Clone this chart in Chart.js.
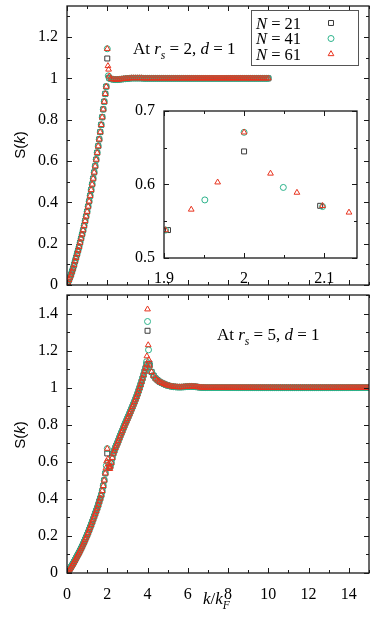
<!DOCTYPE html>
<html>
<head>
<meta charset="utf-8">
<script src="https://cdn.jsdelivr.net/npm/chart.js@4.4.1/dist/chart.umd.min.js"></script>
<style>
html, body { margin: 0; padding: 0; background: #fff; }
body { width: 374px; height: 623px; position: relative; overflow: hidden; }
canvas { position: absolute; }
#top { left: 0; top: 0; }
#bottom { left: 0; top: 290px; }
#inset { left: 128px; top: 104px; }
</style>
</head>
<body>
<canvas id="top" width="374" height="290"></canvas>
<canvas id="bottom" width="374" height="333"></canvas>
<canvas id="inset" width="234" height="180"></canvas>
<script>
// ---- data (k in units of k_F) ----
const seriesNames = ['N = 21', 'N = 41', 'N = 61'];

// r_s = 2 panel
const kTopRise = [
  0, 0.05, 0.1, 0.15, 0.2, 0.25, 0.3, 0.35, 0.4, 0.45,
  0.5, 0.55, 0.6, 0.65, 0.7, 0.75, 0.8, 0.85, 0.9, 0.95,
  1.0, 1.05, 1.1, 1.15, 1.2, 1.25, 1.3, 1.35, 1.4, 1.45,
  1.5, 1.55, 1.6, 1.65, 1.7, 1.75, 1.8, 1.85, 1.9, 1.95
];
const sTopRise = [
  0, 0.012, 0.025, 0.037, 0.05, 0.065, 0.08, 0.097, 0.115, 0.132,
  0.15, 0.167, 0.185, 0.205, 0.225, 0.245, 0.265, 0.287, 0.31, 0.332,
  0.355, 0.38, 0.405, 0.432, 0.46, 0.487, 0.515, 0.545, 0.575, 0.607,
  0.64, 0.672, 0.705, 0.74, 0.775, 0.812, 0.85, 0.887, 0.925, 0.96
];
const kTopPeak21 = [2.0, 2.095];
const sTopPeak21 = [1.096, 1.003];
const kTopPeak41 = [2.0, 2.049, 2.098];
const sTopPeak41 = [1.143, 1.012, 1.0];
const kTopPeak61 = [2.0, 2.033, 2.066, 2.098];
const sTopPeak61 = [1.143, 1.06, 1.043, 1.01];
const kTopFlat = [
  2.2, 2.3, 2.4, 2.5, 2.6, 2.7, 2.8, 2.9, 3.0,
  3.1, 3.2, 3.3, 3.4, 3.5, 3.6, 3.7, 3.8, 3.9, 4.0,
  4.1, 4.2, 4.3, 4.4, 4.5, 4.6, 4.7, 4.8, 4.9, 5.0,
  5.1, 5.2, 5.3, 5.4, 5.5, 5.6, 5.7, 5.8, 5.9, 6.0,
  6.1, 6.2, 6.3, 6.4, 6.5, 6.6, 6.7, 6.8, 6.9, 7.0,
  7.1, 7.2, 7.3, 7.4, 7.5, 7.6, 7.7, 7.8, 7.9, 8.0,
  8.1, 8.2, 8.3, 8.4, 8.5, 8.6, 8.7, 8.8, 8.9, 9.0,
  9.1, 9.2, 9.3, 9.4, 9.5, 9.6, 9.7, 9.8, 9.9, 10.0
];
const sTopFlat = [
  0.997, 0.995, 0.994, 0.994, 0.995, 0.996, 0.997, 0.998, 0.999,
  1.0, 1.001, 1.001, 1.001, 1.001, 1.001, 1.001, 1.0, 1.0, 1.0,
  1.0, 1.0, 1.0, 1.0, 1.0, 1.0, 1.0, 1.0, 1.0, 1.0,
  1.0, 1.0, 1.0, 1.0, 1.0, 1.0, 1.0, 1.0, 1.0, 1.0,
  1.0, 1.0, 1.0, 1.0, 1.0, 1.0, 1.0, 1.0, 1.0, 1.0,
  1.0, 1.0, 1.0, 1.0, 1.0, 1.0, 1.0, 1.0, 1.0, 1.0,
  1.0, 1.0, 1.0, 1.0, 1.0, 1.0, 1.0, 1.0, 1.0, 1.0,
  1.0, 1.0, 1.0, 1.0, 1.0, 1.0, 1.0, 1.0, 1.0, 1.0
];

// r_s = 5 panel (the inset zooms on its kink at k = 2)
const kIn21 = [1.905, 2.0, 2.095];
const sIn21 = [0.538, 0.645, 0.571];
const kIn41 = [1.902, 1.951, 2.0, 2.049, 2.098];
const sIn41 = [0.538, 0.579, 0.671, 0.596, 0.570];
const kIn61 = [1.902, 1.934, 1.967, 2.0, 2.033, 2.066, 2.098, 2.131];
const sIn61 = [0.538, 0.566, 0.603, 0.671, 0.615, 0.589, 0.571, 0.562];

const kBotRise = [
  0, 0.05, 0.1, 0.15, 0.2, 0.25, 0.3, 0.35, 0.4, 0.45,
  0.5, 0.55, 0.6, 0.65, 0.7, 0.75, 0.8, 0.85, 0.9, 0.95,
  1.0, 1.05, 1.1, 1.15, 1.2, 1.25, 1.3, 1.35, 1.4, 1.45,
  1.5, 1.55, 1.6, 1.65, 1.7, 1.75, 1.8, 1.85
];
const sBotRise = [
  0, 0.007, 0.015, 0.023, 0.032, 0.041, 0.05, 0.06, 0.07, 0.08,
  0.09, 0.1, 0.11, 0.121, 0.132, 0.143, 0.155, 0.167, 0.18, 0.192,
  0.205, 0.218, 0.232, 0.246, 0.26, 0.275, 0.29, 0.305, 0.32, 0.335,
  0.35, 0.367, 0.385, 0.402, 0.42, 0.443, 0.47, 0.5
];
const kBotMid = [
  2.15, 2.2, 2.25, 2.3, 2.35, 2.4, 2.45, 2.5, 2.55, 2.6,
  2.65, 2.7, 2.75, 2.8, 2.85, 2.9, 2.95, 3.0, 3.05, 3.1,
  3.15, 3.2, 3.25, 3.3, 3.35, 3.4, 3.45, 3.5, 3.55, 3.6,
  3.65, 3.7, 3.75, 3.8, 3.85, 3.9, 3.95
];
const sBotMid = [
  0.575, 0.595, 0.622, 0.645, 0.66, 0.675, 0.688, 0.70, 0.714, 0.728,
  0.742, 0.755, 0.768, 0.782, 0.795, 0.808, 0.82, 0.833, 0.845, 0.858,
  0.871, 0.884, 0.897, 0.91, 0.923, 0.937, 0.951, 0.966, 0.982, 0.998,
  1.015, 1.032, 1.05, 1.068, 1.087, 1.105, 1.125
];
const kBotPeak21 = [4.0, 4.095];
const sBotPeak21 = [1.307, 1.13];
const kBotPeak41 = [3.951, 4.0, 4.049];
const sBotPeak41 = [1.14, 1.357, 1.204];
const kBotPeak61 = [3.967, 4.0, 4.033, 4.066];
const sBotPeak61 = [1.17, 1.423, 1.23, 1.15];
const kBotFlat = [
  4.1, 4.2, 4.3, 4.4, 4.5, 4.6, 4.7, 4.8, 4.9, 5.0,
  5.1, 5.2, 5.3, 5.4, 5.5, 5.6, 5.7, 5.8, 5.9, 6.0,
  6.1, 6.2, 6.3, 6.4, 6.5, 6.6, 6.7, 6.8, 6.9, 7.0,
  7.1, 7.2, 7.3, 7.4, 7.5, 7.6, 7.7, 7.8, 7.9, 8.0,
  8.1, 8.2, 8.3, 8.4, 8.5, 8.6, 8.7, 8.8, 8.9, 9.0,
  9.1, 9.2, 9.3, 9.4, 9.5, 9.6, 9.7, 9.8, 9.9, 10.0,
  10.1, 10.2, 10.3, 10.4, 10.5, 10.6, 10.7, 10.8, 10.9, 11.0,
  11.1, 11.2, 11.3, 11.4, 11.5, 11.6, 11.7, 11.8, 11.9, 12.0,
  12.1, 12.2, 12.3, 12.4, 12.5, 12.6, 12.7, 12.8, 12.9, 13.0,
  13.1, 13.2, 13.3, 13.4, 13.5, 13.6, 13.7, 13.8, 13.9, 14.0,
  14.1, 14.2, 14.3, 14.4, 14.5, 14.6, 14.7, 14.8, 14.9, 15.0
];
const sBotFlat = [
  1.12, 1.085, 1.065, 1.05, 1.04, 1.032, 1.026, 1.021, 1.016, 1.012,
  1.009, 1.007, 1.005, 1.004, 1.003, 1.003, 1.003, 1.004, 1.005, 1.006,
  1.007, 1.007, 1.006, 1.005, 1.003, 1.002, 1.001, 1.001, 1.0, 1.0,
  1.0, 1.0, 1.0, 1.0, 1.0, 1.0, 1.0, 1.0, 1.0, 1.0,
  1.0, 1.0, 1.0, 1.0, 1.0, 1.0, 1.0, 1.0, 1.0, 1.0,
  1.0, 1.0, 1.0, 1.0, 1.0, 1.0, 1.0, 1.0, 1.0, 1.0,
  1.0, 1.0, 1.0, 1.0, 1.0, 1.0, 1.0, 1.0, 1.0, 1.0,
  1.0, 1.0, 1.0, 1.0, 1.0, 1.0, 1.0, 1.0, 1.0, 1.0,
  1.0, 1.0, 1.0, 1.0, 1.0, 1.0, 1.0, 1.0, 1.0, 1.0,
  1.0, 1.0, 1.0, 1.0, 1.0, 1.0, 1.0, 1.0, 1.0, 1.0,
  1.0, 1.0, 1.0, 1.0, 1.0, 1.0, 1.0, 1.0, 1.0, 1.0
];

// tick labels
const xTicks = [0, 2, 4, 6, 8, 10, 12, 14];
const yTopTicks = [0, 0.2, 0.4, 0.6, 0.8, 1, 1.2];
const yBotTicks = [0, 0.2, 0.4, 0.6, 0.8, 1, 1.2, 1.4];
const xInTicks = [1.9, 2, 2.1];
const yInTicks = [0.5, 0.6, 0.7];

// ---- styles ----
const SERIF = 'Liberation Serif';
const styles = [
  { pointStyle: 'rect', radius: 3.5, color: '#3a3a3a', order: 3 },
  { pointStyle: 'circle', radius: 3, color: '#2cb38b', order: 2 },
  { pointStyle: 'triangle', radius: 3.3, color: '#e8341f', order: 1 }
];

function pts(ks, ss) {
  return ks.map((k, i) => ({ x: k, y: ss[i] }));
}

function makeSet(i, data) {
  const st = styles[i];
  return {
    label: seriesNames[i],
    data: data,
    pointStyle: st.pointStyle,
    pointRadius: st.radius,
    pointBorderColor: st.color,
    pointBackgroundColor: 'rgba(0,0,0,0)',
    pointBorderWidth: 1,
    order: st.order
  };
}

function rich(ctx, x, y, parts, size, family) {
  parts.forEach(p => {
    const s = p.sub ? size * 0.68 : size;
    ctx.font = (p.it ? 'italic ' : '') + s + 'px ' + family;
    ctx.fillText(p.t, x, y + (p.sub ? size * 0.3 : 0));
    x += ctx.measureText(p.t).width;
  });
  return x;
}

function richWidth(ctx, parts, size, family) {
  let w = 0;
  parts.forEach(p => {
    const s = p.sub ? size * 0.68 : size;
    ctx.font = (p.it ? 'italic ' : '') + s + 'px ' + family;
    w += ctx.measureText(p.t).width;
  });
  return w;
}

function marker(ctx, st, x, y) {
  const r = st.radius;
  ctx.beginPath();
  if (st.pointStyle === 'rect') {
    const s = r * Math.SQRT1_2;
    ctx.rect(x - s, y - s, 2 * s, 2 * s);
  } else if (st.pointStyle === 'circle') {
    ctx.arc(x, y, r, 0, Math.PI * 2);
  } else {
    ctx.moveTo(x, y - r);
    ctx.lineTo(x + r * Math.sin(Math.PI * 2 / 3), y + r * 0.5);
    ctx.lineTo(x - r * Math.sin(Math.PI * 2 / 3), y + r * 0.5);
    ctx.closePath();
  }
  ctx.strokeStyle = st.color;
  ctx.lineWidth = 1;
  ctx.stroke();
}

// frame with inward ticks on all four sides, plus extra drawing
function decor(cfg) {
  return {
    id: 'decor',
    beforeDatasetsDraw(chart) {
      if (!cfg.white) return;
      const a = chart.chartArea, ctx = chart.ctx;
      ctx.save();
      ctx.fillStyle = '#fff';
      ctx.fillRect(a.left, a.top, a.right - a.left, a.bottom - a.top);
      ctx.restore();
    },
    afterDatasetsDraw(chart) {
      const ctx = chart.ctx, a = chart.chartArea;
      const xs = chart.scales.x, ys = chart.scales.y;
      ctx.save();
      ctx.strokeStyle = '#1a1a1a';
      ctx.lineWidth = 1;
      const eps = 1e-6;
      for (let v = Math.ceil(xs.min / cfg.xMinor - eps) * cfg.xMinor; v <= xs.max + eps; v += cfg.xMinor) {
        const px = Math.round(xs.getPixelForValue(v)) + 0.5;
        const major = Math.abs(v / cfg.xMajor - Math.round(v / cfg.xMajor)) < 1e-4;
        const len = major ? 5 : 3;
        ctx.beginPath();
        ctx.moveTo(px, a.bottom); ctx.lineTo(px, a.bottom - len);
        ctx.moveTo(px, a.top); ctx.lineTo(px, a.top + len);
        ctx.stroke();
      }
      for (let v = Math.ceil(ys.min / cfg.yMinor - eps) * cfg.yMinor; v <= ys.max + eps; v += cfg.yMinor) {
        const py = Math.round(ys.getPixelForValue(v)) + 0.5;
        const major = Math.abs(v / cfg.yMajor - Math.round(v / cfg.yMajor)) < 1e-4;
        const len = major ? 5 : 3;
        ctx.beginPath();
        ctx.moveTo(a.left, py); ctx.lineTo(a.left + len, py);
        ctx.moveTo(a.right, py); ctx.lineTo(a.right - len, py);
        ctx.stroke();
      }
      ctx.lineWidth = 1.3;
      ctx.strokeRect(a.left, a.top, a.right - a.left, a.bottom - a.top);
      ctx.restore();
      if (cfg.extra) {
        ctx.save();
        ctx.fillStyle = '#000';
        ctx.textAlign = 'left';
        ctx.textBaseline = 'alphabetic';
        cfg.extra(ctx, chart);
        ctx.restore();
      }
    }
  };
}

function fmt(v) { return String(+v.toFixed(2)); }

function axes(xMin, xMax, xt, yMin, yMax, yt, showX, xPad, yPad, yWidth, xHeight) {
  return {
    x: {
      type: 'linear', min: xMin, max: xMax,
      grid: { display: false, drawTicks: false }, border: { display: false },
      afterBuildTicks: s => { s.ticks = xt.map(v => ({ value: v })); },
      afterFit: s => { s.height = xHeight; s.paddingLeft = 0; s.paddingRight = 0; },
      ticks: { display: showX, padding: xPad, color: '#000', font: { family: SERIF, size: 16 }, callback: fmt, maxRotation: 0, autoSkip: false }
    },
    y: {
      type: 'linear', min: yMin, max: yMax,
      grid: { display: false, drawTicks: false }, border: { display: false },
      afterBuildTicks: s => { s.ticks = yt.map(v => ({ value: v })); },
      afterFit: s => { s.width = yWidth; s.paddingTop = 0; s.paddingBottom = 0; },
      ticks: { padding: yPad, color: '#000', font: { family: SERIF, size: 16 }, callback: fmt, autoSkip: false }
    }
  };
}

function yTitle(ctx, cx, cy) {
  const parts = [{ t: 'S(' }, { t: 'k', it: true }, { t: ')' }];
  const fam = 'Liberation Sans';
  const w = richWidth(ctx, parts, 15, fam);
  ctx.save();
  ctx.translate(cx, cy);
  ctx.rotate(-Math.PI / 2);
  rich(ctx, -w / 2, 5, parts, 15, fam);
  ctx.restore();
}

// ---- top panel: r_s = 2 ----
new Chart(document.getElementById('top'), {
  type: 'scatter',
  data: {
    datasets: [
      makeSet(0, pts(kTopRise, sTopRise).concat(pts(kTopPeak21, sTopPeak21), pts(kTopFlat, sTopFlat))),
      makeSet(1, pts(kTopRise, sTopRise).concat(pts(kTopPeak41, sTopPeak41), pts(kTopFlat, sTopFlat))),
      makeSet(2, pts(kTopRise, sTopRise).concat(pts(kTopPeak61, sTopPeak61), pts(kTopFlat, sTopFlat)))
    ]
  },
  options: {
    responsive: false, animation: false, devicePixelRatio: 1,
    layout: { padding: { left: 0, right: 4, top: 6, bottom: 0 } },
    plugins: { legend: { display: false }, tooltip: { enabled: false } },
    scales: axes(0, 15, xTicks, 0, 1.35, yTopTicks, false, 0, 9, 67, 4)
  },
  plugins: [decor({
    xMinor: 1, xMajor: 2, yMinor: 0.1, yMajor: 0.2,
    extra: (ctx) => {
      yTitle(ctx, 20, 145);
      rich(ctx, 133, 54, [
        { t: 'At ' }, { t: 'r', it: true }, { t: 's', it: true, sub: true },
        { t: ' = 2, ' }, { t: 'd', it: true }, { t: ' = 1' }
      ], 17, SERIF);
      // legend box
      ctx.strokeStyle = '#555';
      ctx.lineWidth = 1;
      ctx.strokeRect(251.5, 10.5, 107, 55);
      const rows = [23, 38.5, 54];
      seriesNames.forEach((name, i) => {
        ctx.fillStyle = '#000';
        rich(ctx, 256, rows[i] + 5.5, [{ t: 'N', it: true }, { t: name.slice(1) }], 16.5, SERIF);
        marker(ctx, styles[i], 331, rows[i]);
      });
    }
  })]
});

// ---- bottom panel: r_s = 5 ----
new Chart(document.getElementById('bottom'), {
  type: 'scatter',
  data: {
    datasets: [
      makeSet(0, pts(kBotRise, sBotRise).concat(pts(kIn21, sIn21), pts(kBotMid, sBotMid), pts(kBotPeak21, sBotPeak21), pts(kBotFlat, sBotFlat))),
      makeSet(1, pts(kBotRise, sBotRise).concat(pts(kIn41, sIn41), pts(kBotMid, sBotMid), pts(kBotPeak41, sBotPeak41), pts(kBotFlat, sBotFlat))),
      makeSet(2, pts(kBotRise, sBotRise).concat(pts(kIn61, sIn61), pts(kBotMid, sBotMid), pts(kBotPeak61, sBotPeak61), pts(kBotFlat, sBotFlat)))
    ]
  },
  options: {
    responsive: false, animation: false, devicePixelRatio: 1,
    layout: { padding: { left: 0, right: 4, top: 3, bottom: 0 } },
    plugins: { legend: { display: false }, tooltip: { enabled: false } },
    scales: axes(0, 15, xTicks, 0, 1.5, yBotTicks, true, 12, 9, 67, 50)
  },
  plugins: [decor({
    xMinor: 1, xMajor: 2, yMinor: 0.1, yMajor: 0.2,
    extra: (ctx) => {
      yTitle(ctx, 20, 145);
      rich(ctx, 217, 50, [
        { t: 'At ' }, { t: 'r', it: true }, { t: 's', it: true, sub: true },
        { t: ' = 5, ' }, { t: 'd', it: true }, { t: ' = 1' }
      ], 17, SERIF);
      rich(ctx, 203, 314, [{ t: 'k', it: true }, { t: '/' }, { t: 'k', it: true }, { t: 'F', it: true, sub: true }], 17, SERIF);
    }
  })]
});

// ---- inset: zoom on the k = 2 kink of r_s = 5 ----
new Chart(document.getElementById('inset'), {
  type: 'scatter',
  data: {
    datasets: [
      makeSet(0, pts(kIn21, sIn21)),
      makeSet(1, pts(kIn41, sIn41)),
      makeSet(2, pts(kIn61, sIn61))
    ]
  },
  options: {
    responsive: false, animation: false, devicePixelRatio: 1,
    layout: { padding: { left: 0, right: 4, top: 7, bottom: 0 } },
    plugins: { legend: { display: false }, tooltip: { enabled: false } },
    scales: axes(1.9, 2.141, xInTicks, 0.5, 0.7, yInTicks, true, 11, 9, 36, 26)
  },
  plugins: [decor({ xMinor: 0.05, xMajor: 0.1, yMinor: 0.05, yMajor: 0.1, white: true })]
});
</script>
</body>
</html>
